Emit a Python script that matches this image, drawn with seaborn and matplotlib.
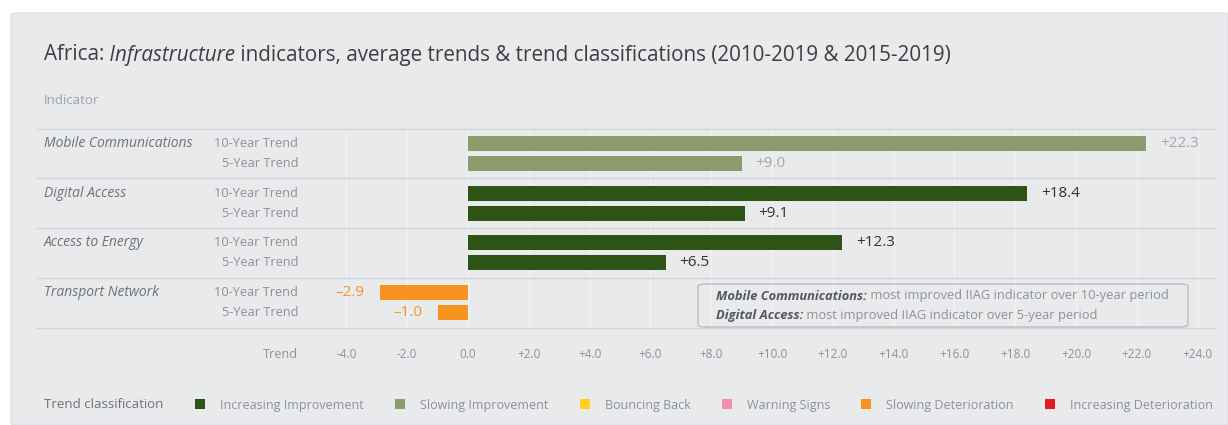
import matplotlib
matplotlib.use("Agg")
import matplotlib.pyplot as plt
from matplotlib.patches import Patch, FancyBboxPatch
from matplotlib.lines import Line2D
from matplotlib import transforms
import seaborn as sns
import pandas as pd

# ---- data -------------------------------------------------------------
indicators = ["Mobile Communications", "Digital Access", "Access to Energy", "Transport Network"]
periods = ["10-Year Trend", "5-Year Trend"]
trend_10yr = [22.3, 18.4, 12.3, -2.9]
trend_5yr = [9.0, 9.1, 6.5, -1.0]
class_10yr = ["Slowing Improvement", "Increasing Improvement", "Increasing Improvement", "Slowing Deterioration"]
class_5yr = ["Slowing Improvement", "Increasing Improvement", "Increasing Improvement", "Slowing Deterioration"]
x_ticks = [-4, -2, 0, 2, 4, 6, 8, 10, 12, 14, 16, 18, 20, 22, 24]
classes = ["Increasing Improvement", "Slowing Improvement", "Bouncing Back",
           "Warning Signs", "Slowing Deterioration", "Increasing Deterioration"]
class_colors = ["#2d5414", "#8b9b6d", "#ffd21f", "#f28cb1", "#f7931e", "#e31b23"]
label_colors = {"Increasing Improvement": "#2f3133", "Slowing Improvement": "#a3a7ab",
                "Slowing Deterioration": "#f7931e"}

df = pd.DataFrame({
    "indicator": indicators * 2,
    "period": [periods[0]] * 4 + [periods[1]] * 4,
    "value": trend_10yr + trend_5yr,
    "classification": class_10yr + class_5yr,
})
color_of = dict(zip(classes, class_colors))

# ---- figure ----------------------------------------------------------
W, H = 1228, 425
sns.set_theme(style="white")
plt.rcParams["font.family"] = ["Open Sans", "DejaVu Sans"]

fig = plt.figure(figsize=(W / 100, H / 100), dpi=100, facecolor="white")

def fx(px):
    return px / W

def fy(py):
    return 1 - py / H

PANEL = "#e8eaec"
fig.add_artist(FancyBboxPatch((fx(11), 0), 1 - fx(11), fy(13), boxstyle="round,pad=0,rounding_size=0.004",
                              transform=fig.transFigure, facecolor=PANEL, edgecolor="#dcdfe2",
                              linewidth=0.8, zorder=0))

ax_l, ax_r, ax_t, ax_b = 330, 1220, 128.5, 327.5
ax = fig.add_axes([fx(ax_l), fy(ax_b), fx(ax_r) - fx(ax_l), fy(ax_t) - fy(ax_b)])
ax.set_facecolor("none")

sns.barplot(data=df, x="value", y="indicator", hue="period", hue_order=periods,
            order=indicators, orient="h", width=0.8, gap=0.25, errorbar=None,
            legend=False, ax=ax, zorder=3)

# colour each bar by its trend classification and label it with its value
for container, period in zip(ax.containers, periods):
    sub = df[df["period"] == period].set_index("indicator").loc[indicators]
    for bar, (_, row) in zip(container, sub.iterrows()):
        bar.set_facecolor(color_of[row["classification"]])
        bar.set_edgecolor("none")
        v = row["value"]
        yc = bar.get_y() + bar.get_height() / 2
        end = bar.get_x() + bar.get_width()
        txt = f"+{v:.1f}" if v >= 0 else f"\u2013{abs(v):.1f}"
        ax.annotate(txt, (end, yc),
                    xytext=(10 if v >= 0 else -11, 0), textcoords="offset points",
                    ha="left" if v >= 0 else "right", va="center", fontsize=11,
                    color=label_colors[row["classification"]], zorder=4)

px_per_unit = 30.4
ax.set_xlim(-(468 - ax_l) / px_per_unit, (ax_r - 468) / px_per_unit)
ax.set_ylim(3.5, -0.5)
ax.set_xticks(x_ticks)
ax.set_xticklabels([f"+{t:.1f}" if t > 0 else f"{t:.1f}" for t in x_ticks])
ax.tick_params(axis="x", length=0, pad=15, labelsize=8.5, labelcolor="#8d9297")
ax.set_yticks([])
ax.set_xlabel("")
ax.set_ylabel("")
for s in ax.spines.values():
    s.set_visible(False)
ax.grid(axis="x", color="#f1f2f4", linewidth=0.9, zorder=0)
ax.set_axisbelow(True)

# separators between indicator groups
sep_tr = transforms.blended_transform_factory(fig.transFigure, ax.transData)
for yy in [-0.5, 0.5, 1.5, 2.5, 3.5]:
    fig.add_artist(Line2D([fx(36), fx(1216)], [yy, yy], transform=sep_tr,
                          color="#d2d5d8", linewidth=1.0, zorder=1))

# row labels
for container, period in zip(ax.containers, periods):
    for bar, name in zip(container, indicators):
        yc = bar.get_y() + bar.get_height() / 2
        ax.text(fx(298), yc, period, transform=sep_tr, ha="right", va="center",
                fontsize=9.2, color="#8d9297")
        if period == periods[0]:
            ax.text(fx(44), yc, name, transform=sep_tr, ha="left", va="center",
                    fontsize=10, style="italic", color="#6e7378")

fig.text(fx(298), fy(354), "Trend", ha="right", va="center", fontsize=9.2, color="#8d9297")
fig.text(fx(44), fy(100), "Indicator", ha="left", va="center", fontsize=9.5, color="#9da2a7")

renderer = fig.canvas.get_renderer()

def draw_runs(x_px, y_px, runs):
    x = x_px
    for s, kw in runs:
        t = fig.text(x / W, fy(y_px), s, ha="left", va="center", **kw)
        x = t.get_window_extent(renderer).x1

# title
title_kw = dict(fontsize=14.9, color="#3c3f42")
draw_runs(44, 55, [("Africa:", title_kw),
                   (" Infrastructure", dict(title_kw, style="italic")),
                   (" indicators, average trends & trend classifications (2010-2019 & 2015-2019)", title_kw)])

# note box
fig.add_artist(FancyBboxPatch((fx(698), fy(327)), fx(1188) - fx(698), fy(284) - fy(327),
                              boxstyle="round,pad=0,rounding_size=0.006", transform=fig.transFigure,
                              facecolor="none", edgecolor="#b9bdc1", linewidth=1.0, zorder=5))
note_b = dict(fontsize=9.3, color="#55595d", style="italic", weight="bold")
note_r = dict(fontsize=9.3, color="#8d9297")
draw_runs(716, 296, [("Mobile Communications:", note_b),
                     (" most improved IIAG indicator over 10-year period", note_r)])
draw_runs(716, 315, [("Digital Access:", note_b),
                     (" most improved IIAG indicator over 5-year period", note_r)])

# classification legend
fig.text(fx(44), fy(405), "Trend classification", ha="left", va="center", fontsize=9.5,
         color="#6e7378")
handles = [Patch(facecolor=c, edgecolor="none") for c in class_colors]
fig.legend(handles, classes, loc="center left", bbox_to_anchor=(fx(195), fy(405)),
           ncol=6, frameon=False, fontsize=9, labelcolor="#8d9297",
           handlelength=0.8, handleheight=0.8, handletextpad=1.2, columnspacing=2.5,
           borderaxespad=0, borderpad=0)

fig.savefig("out.png", dpi=100, facecolor="white")
